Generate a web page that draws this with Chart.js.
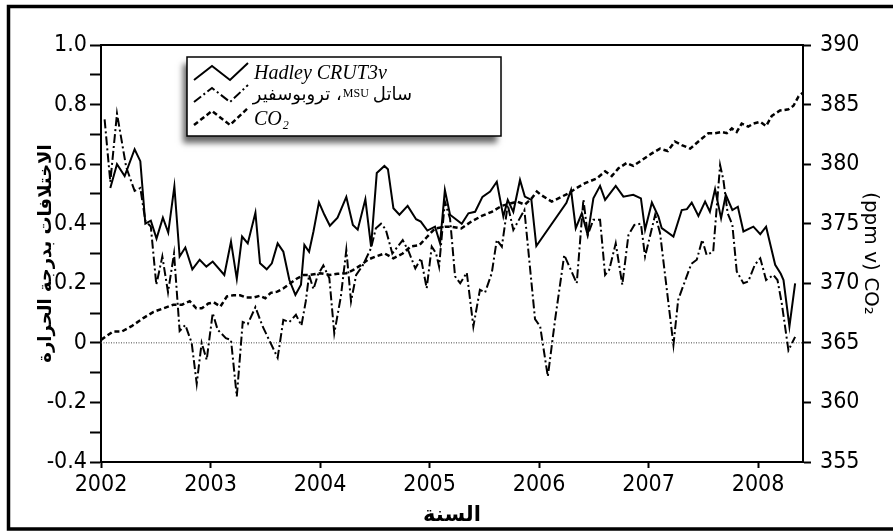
<!DOCTYPE html>
<html>
<head>
<meta charset="utf-8">
<script src="https://cdn.jsdelivr.net/npm/chart.js@4.4.1/dist/chart.umd.min.js"></script>
<style>
  html, body { margin: 0; padding: 0; background: #fff; }
  canvas { display: block; }
</style>
</head>
<body>
<canvas id="chart" width="893" height="532"></canvas>
<script>
// Hadley CRUT3v (solid), left axis
const hadleyYears = [
  2002.085, 2002.146, 2002.216, 2002.307, 2002.359, 2002.405, 2002.455, 2002.507, 2002.565, 2002.614, 2002.670, 2002.718, 2002.770, 2002.834, 2002.901, 2002.962,
  2003.020, 2003.126, 2003.187, 2003.240, 2003.288, 2003.340, 2003.410, 2003.452, 2003.513, 2003.560, 2003.613, 2003.665, 2003.720, 2003.775, 2003.826, 2003.857, 2003.900, 2003.940,
  2003.990, 2004.040, 2004.090, 2004.160, 2004.240, 2004.300, 2004.344, 2004.414, 2004.466, 2004.518, 2004.588, 2004.620, 2004.670, 2004.725, 2004.800, 2004.877, 2004.920, 2004.980,
  2005.050, 2005.096, 2005.140, 2005.187, 2005.294, 2005.355, 2005.416, 2005.483, 2005.553, 2005.614, 2005.674, 2005.714, 2005.765, 2005.826, 2005.870, 2005.930, 2005.975,
  2006.250, 2006.292, 2006.335, 2006.390, 2006.444, 2006.496, 2006.557, 2006.603, 2006.700, 2006.770, 2006.860, 2006.930, 2006.968,
  2007.030, 2007.090, 2007.120, 2007.227, 2007.303, 2007.350, 2007.394, 2007.455, 2007.516, 2007.560, 2007.607, 2007.662, 2007.705, 2007.765, 2007.815, 2007.866, 2007.957,
  2008.020, 2008.073, 2008.156, 2008.207, 2008.232, 2008.286, 2008.338
];
const hadleyVals = [
  0.52, 0.60, 0.56, 0.65, 0.61, 0.40, 0.41, 0.35, 0.42, 0.37, 0.525, 0.29, 0.32, 0.247, 0.279, 0.256,
  0.273, 0.228, 0.34, 0.215, 0.357, 0.334, 0.437, 0.267, 0.247, 0.267, 0.334, 0.306, 0.211, 0.161, 0.195, 0.329, 0.306, 0.374,
  0.472, 0.43, 0.393, 0.42, 0.49, 0.396, 0.38, 0.482, 0.323, 0.57, 0.594, 0.583, 0.452, 0.43, 0.46, 0.415, 0.407, 0.377,
  0.39, 0.334, 0.513, 0.43, 0.40, 0.435, 0.44, 0.49, 0.508, 0.541, 0.424, 0.48, 0.44, 0.547, 0.491, 0.48, 0.325,
  0.47, 0.513, 0.385, 0.435, 0.362, 0.485, 0.527, 0.48, 0.527, 0.491, 0.497, 0.485, 0.38,
  0.471, 0.424, 0.385, 0.357, 0.446, 0.449, 0.471, 0.426, 0.474, 0.44, 0.516, 0.418, 0.497, 0.446, 0.457, 0.374, 0.39,
  0.365, 0.39, 0.262, 0.232, 0.211, 0.055, 0.20
];

// MSU satellite troposphere (dash-dot), left axis
const msuYears = [
  2002.033, 2002.085, 2002.146, 2002.230, 2002.307, 2002.359, 2002.405, 2002.455, 2002.505, 2002.560, 2002.612, 2002.667, 2002.718, 2002.770, 2002.828, 2002.874, 2002.919, 2002.965,
  2003.020, 2003.065, 2003.140, 2003.187, 2003.240, 2003.294, 2003.340, 2003.410, 2003.476, 2003.613, 2003.665, 2003.720, 2003.780, 2003.830, 2003.870, 2003.900, 2003.940, 2003.980,
  2004.030, 2004.085, 2004.130, 2004.190, 2004.240, 2004.283, 2004.330, 2004.390, 2004.466, 2004.510, 2004.557, 2004.600, 2004.660, 2004.755, 2004.810, 2004.870, 2004.922, 2004.974,
  2005.020, 2005.060, 2005.087, 2005.140, 2005.187, 2005.233, 2005.280, 2005.340, 2005.400, 2005.460, 2005.507, 2005.568, 2005.614, 2005.660, 2005.714, 2005.765, 2005.866, 2005.963,
  2006.010, 2006.080, 2006.146, 2006.230, 2006.344, 2006.405, 2006.444, 2006.496, 2006.557, 2006.603, 2006.640, 2006.700, 2006.760, 2006.816, 2006.870, 2006.930, 2006.968,
  2007.060, 2007.105, 2007.227, 2007.270, 2007.303, 2007.390, 2007.440, 2007.490, 2007.530, 2007.590, 2007.653, 2007.683, 2007.722, 2007.765, 2007.805, 2007.866, 2007.910, 2007.970,
  2008.020, 2008.073, 2008.140, 2008.177, 2008.216, 2008.277, 2008.338
];
const msuVals = [
  0.75, 0.54, 0.77, 0.59, 0.51, 0.52, 0.41, 0.39, 0.195, 0.29, 0.17, 0.30, 0.04, 0.06, 0.0, -0.137, 0.0, -0.057,
  0.10, 0.044, 0.016, 0.01, -0.18, 0.07, 0.063, 0.12, 0.055, -0.05, 0.077, 0.07, 0.094, 0.058, 0.14, 0.228, 0.18, 0.228,
  0.26, 0.217, 0.032, 0.155, 0.312, 0.139, 0.228, 0.26, 0.318, 0.385, 0.40, 0.381, 0.30, 0.345, 0.306, 0.25, 0.284, 0.183,
  0.323, 0.30, 0.256, 0.474, 0.418, 0.223, 0.20, 0.236, 0.055, 0.178, 0.169, 0.234, 0.346, 0.323, 0.463, 0.379, 0.446, 0.08,
  0.055, -0.113, 0.077, 0.295, 0.20, 0.482, 0.362, 0.413, 0.413, 0.228, 0.245, 0.334, 0.195, 0.362, 0.396, 0.40, 0.29,
  0.43, 0.368, -0.007, 0.144, 0.178, 0.265, 0.279, 0.346, 0.295, 0.306, 0.597, 0.547, 0.435, 0.396, 0.24, 0.20, 0.206, 0.262,
  0.284, 0.211, 0.228, 0.211, 0.133, -0.025, 0.02
];

// CO2 (dashed), right axis, ppm
const co2Years = [
  2002.00, 2002.11, 2002.19, 2002.28, 2002.39, 2002.48, 2002.57, 2002.66, 2002.74, 2002.81, 2002.87, 2002.92, 2002.98,
  2003.03, 2003.09, 2003.15, 2003.21, 2003.27, 2003.33, 2003.39, 2003.45, 2003.50, 2003.55, 2003.61, 2003.67, 2003.73, 2003.79, 2003.85, 2003.91,
  2004.00, 2004.09, 2004.16, 2004.24, 2004.30, 2004.37, 2004.44, 2004.51, 2004.59, 2004.67, 2004.755, 2004.83, 2004.907, 2004.968,
  2005.05, 2005.14, 2005.20, 2005.29, 2005.385, 2005.477, 2005.568, 2005.66, 2005.72, 2005.80, 2005.87, 2005.93, 2005.98,
  2006.02, 2006.116, 2006.268, 2006.344, 2006.42, 2006.527, 2006.603, 2006.664, 2006.725, 2006.80, 2006.86, 2006.94,
  2007.03, 2007.105, 2007.175, 2007.24, 2007.303, 2007.38, 2007.455, 2007.546, 2007.607, 2007.668, 2007.714, 2007.76, 2007.805, 2007.85, 2007.91, 2007.957,
  2008.02, 2008.073, 2008.125, 2008.20, 2008.277, 2008.323, 2008.37, 2008.41
];
const co2Vals = [
  365.25, 365.95, 365.95, 366.4, 367.1, 367.6, 367.9, 368.2, 368.2, 368.5, 367.9, 367.9, 368.3,
  368.4, 368.05, 368.9, 369.0, 369.0, 368.8, 368.8, 368.95, 368.75, 369.2, 369.3, 369.6, 370.0, 370.4, 370.7, 370.7,
  370.85, 370.7, 370.8, 370.85, 371.1, 371.5, 372.0, 372.25, 372.5, 372.1, 372.5, 373.1, 373.2, 373.8,
  374.6, 374.75, 374.75, 374.6, 375.2, 375.65, 376.0, 376.5, 376.65, 376.85, 376.6, 377.1, 377.7,
  377.4, 376.85, 377.55, 378.0, 378.4, 378.8, 379.4, 379.0, 379.65, 380.1, 379.85, 380.35,
  380.9, 381.3, 381.1, 381.9, 381.6, 381.3, 381.9, 382.6, 382.6, 382.7, 382.6, 383.0, 382.7, 383.4, 383.15, 383.4,
  383.55, 383.2, 384.05, 384.5, 384.6, 384.9, 385.7, 386.0
];

// dotted zero reference
const zeroYears = [2002, 2008.41];
const zeroVals = [0, 0];

const pts = (xs, ys) => xs.map((x, i) => ({ x: x, y: ys[i] }));

const tickFont = { family: "'Liberation Sans Narrow', 'DejaVu Sans Condensed', sans-serif", size: 23 };

const framePlugin = {
  id: 'framePlugin',
  beforeDraw(chart) {
    const ctx = chart.ctx;
    ctx.save();
    ctx.fillStyle = '#fff';
    ctx.fillRect(0, 0, chart.width, chart.height);
    ctx.restore();
  },
  afterDraw(chart) {
    const ctx = chart.ctx;
    const a = chart.chartArea;
    ctx.save();
    // top edge of plot box
    ctx.strokeStyle = '#000';
    ctx.lineWidth = 2;
    ctx.beginPath();
    ctx.moveTo(a.left, a.top);
    ctx.lineTo(a.right, a.top);
    ctx.stroke();

    // outer frame
    ctx.lineWidth = 3.5;
    ctx.beginPath();
    ctx.moveTo(chart.width, 6.5);
    ctx.lineTo(8.5, 6.5);
    ctx.lineTo(8.5, 529);
    ctx.lineTo(chart.width, 529);
    ctx.stroke();

    // legend box with drop shadow
    const lx = 187, ly = 57, lw = 314, lh = 79;
    ctx.save();
    ctx.shadowColor = 'rgba(0,0,0,0.6)';
    ctx.shadowBlur = 6;
    ctx.shadowOffsetX = -4;
    ctx.shadowOffsetY = 7;
    ctx.fillStyle = '#fff';
    ctx.fillRect(lx, ly, lw, lh);
    ctx.restore();
    ctx.lineWidth = 1.5;
    ctx.strokeRect(lx, ly, lw, lh);

    const rows = [
      { c: 73, dash: [], w: 2 },
      { c: 95, dash: [9, 3, 2, 3], w: 2 },
      { c: 118, dash: [5, 3], w: 2.5 }
    ];
    rows.forEach(r => {
      ctx.setLineDash(r.dash);
      ctx.lineWidth = r.w;
      ctx.beginPath();
      ctx.moveTo(194, r.c + 7);
      ctx.lineTo(212, r.c - 7);
      ctx.lineTo(230, r.c + 7);
      ctx.lineTo(248, r.c - 10);
      ctx.stroke();
    });
    ctx.setLineDash([]);

    ctx.fillStyle = '#000';
    ctx.textBaseline = 'middle';
    ctx.textAlign = 'left';
    ctx.font = "italic 20px 'Liberation Serif'";
    ctx.fillText('Hadley CRUT3v', 254, 74);
    ctx.fillText('CO', 254, 120);
    const coW = ctx.measureText('CO').width;
    ctx.font = "italic 12px 'Liberation Serif'";
    ctx.fillText('2', 254 + coW + 1, 126);

    // arabic row, drawn right to left
    ctx.direction = 'rtl';
    ctx.textAlign = 'right';
    let rx = 412;
    ctx.font = "18px 'DejaVu Sans'";
    ctx.fillText('ساتل', rx, 95);
    rx -= ctx.measureText('ساتل').width + 4;
    ctx.font = "12px 'Liberation Serif'";
    ctx.direction = 'ltr';
    ctx.fillText('MSU', rx, 94);
    rx -= ctx.measureText('MSU').width + 1;
    ctx.direction = 'rtl';
    ctx.font = "18px 'DejaVu Sans'";
    ctx.fillText('، تروبوسفير', rx, 95);
    ctx.restore();
  }
};

new Chart(document.getElementById('chart'), {
  type: 'line',
  data: {
    datasets: [
      { label: 'Hadley CRUT3v', data: pts(hadleyYears, hadleyVals), yAxisID: 'y',
        borderColor: '#000', borderWidth: 2, pointRadius: 0, tension: 0, fill: false },
      { label: 'MSU', data: pts(msuYears, msuVals), yAxisID: 'y',
        borderColor: '#000', borderWidth: 2, borderDash: [9, 3, 2, 3], pointRadius: 0, tension: 0, fill: false },
      { label: 'CO2', data: pts(co2Years, co2Vals), yAxisID: 'y2',
        borderColor: '#000', borderWidth: 2.5, borderDash: [5, 3], pointRadius: 0, tension: 0, fill: false },
      { label: 'zero', data: pts(zeroYears, zeroVals), yAxisID: 'y',
        borderColor: '#444', borderWidth: 1, borderDash: [1, 1.5], pointRadius: 0, tension: 0, fill: false }
    ]
  },
  options: {
    responsive: false,
    animation: false,
    devicePixelRatio: 1,
    layout: { padding: { top: 45, left: 0, right: 0, bottom: 0 } },
    plugins: { legend: { display: false }, tooltip: { enabled: false } },
    scales: {
      x: {
        type: 'linear', position: 'bottom', min: 2002, max: 2008.41,
        afterFit: s => { s.height = 70; },
        grid: { drawOnChartArea: false, drawTicks: true, tickLength: 6, tickColor: '#000', tickWidth: 2 },
        border: { display: true, color: '#000', width: 2 },
        ticks: { stepSize: 1, includeBounds: false, padding: 3, color: '#000', font: tickFont,
                 maxRotation: 0, callback: v => String(v) },
        title: { display: true, text: 'السنة', color: '#000',
                 font: { family: "'DejaVu Sans'", size: 21, weight: 'bold' }, padding: { top: 0, bottom: 4 } }
      },
      y: {
        position: 'left', min: -0.4, max: 1.0,
        afterFit: s => { s.width = 101; },
        grid: { drawOnChartArea: false, drawTicks: true, tickLength: 11, tickColor: '#000', tickWidth: 2 },
        border: { display: true, color: '#000', width: 2 },
        ticks: { stepSize: 0.1, autoSkip: false, padding: 3, color: '#000', font: tickFont,
                 callback: v => {
                   const n = Math.round(v * 10);
                   if (n % 2 !== 0) return '';
                   return n === 0 ? '0' : (n / 10).toFixed(1);
                 } },
        title: { display: true, text: 'الاختلافات بدرجة الحرارة', color: '#000',
                 font: { family: "'DejaVu Sans'", size: 18, weight: 'bold' }, padding: { top: 36, bottom: 0 } }
      },
      y2: {
        position: 'right', min: 355, max: 390,
        afterFit: s => { s.width = 90; },
        grid: { drawOnChartArea: false, drawTicks: true, tickLength: 8, tickColor: '#000', tickWidth: 2 },
        border: { display: true, color: '#000', width: 2 },
        ticks: { stepSize: 5, autoSkip: false, padding: 9, color: '#000', font: tickFont },
        title: { display: true, text: '(ppm v) CO₂', color: '#000',
                 font: { family: "'DejaVu Sans'", size: 20 }, padding: { top: 11, bottom: 0 } }
      }
    }
  },
  plugins: [framePlugin]
});
</script>
</body>
</html>
